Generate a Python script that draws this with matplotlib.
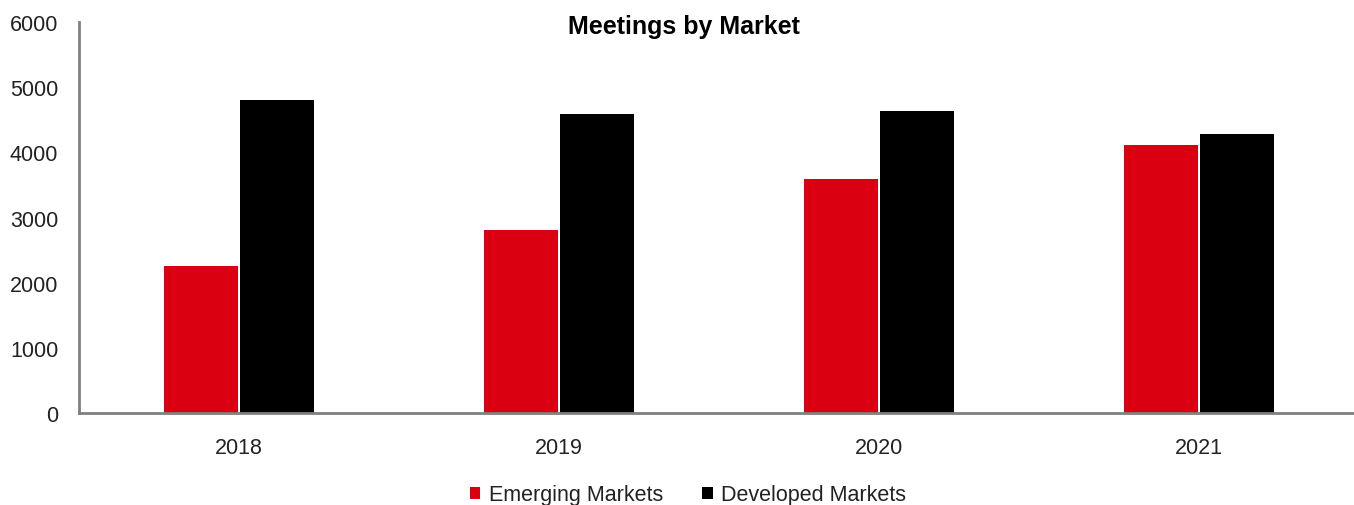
import matplotlib
matplotlib.use("Agg")
import matplotlib.pyplot as plt
import numpy as np

years = ["2018", "2019", "2020", "2021"]
emerging = [2256, 2808, 3591, 4117]
developed = [4807, 4593, 4629, 4276]
yticks = [0, 1000, 2000, 3000, 4000, 5000, 6000]

plt.rcParams['font.family'] = ['Liberation Sans', 'DejaVu Sans']

fig = plt.figure(figsize=(13.54, 5.06), dpi=100)
ax = fig.add_axes([79/1354, 1 - 414/506, 1280/1354, (414 - 23)/506])

x = np.arange(len(years))
w = 0.232
ax.bar(x - 0.118, emerging, width=w, color="#DA0011", label="Emerging Markets")
ax.bar(x + 0.118, developed, width=w, color="#000000", label="Developed Markets")

ax.set_xlim(-0.5, 3.5)
ax.set_ylim(0, 6000)
ax.set_yticks(yticks)
ax.set_xticks(x)
ax.set_xticklabels(years)
ax.tick_params(axis='both', length=0, labelsize=15.5, colors="#222222")
ax.tick_params(axis='y', pad=15)
ax.tick_params(axis='x', pad=17)

for s in ["top", "right"]:
    ax.spines[s].set_visible(False)
for s in ["left", "bottom"]:
    ax.spines[s].set_color("#808080")
    ax.spines[s].set_linewidth(2)

fig.text(684/1354, 1 - 27/506, "Meetings by Market", ha="center", va="center",
         fontsize=18, fontweight="bold", color="#000000")

leg = fig.legend(loc="center", bbox_to_anchor=(688/1354, 1 - 496/506), ncol=2,
                 frameon=False, fontsize=15.5, handlelength=0.5, handleheight=0.5,
                 handletextpad=0.4, columnspacing=1.8)
for t in leg.get_texts():
    t.set_color("#222222")

fig.savefig("out.png", dpi=100)
